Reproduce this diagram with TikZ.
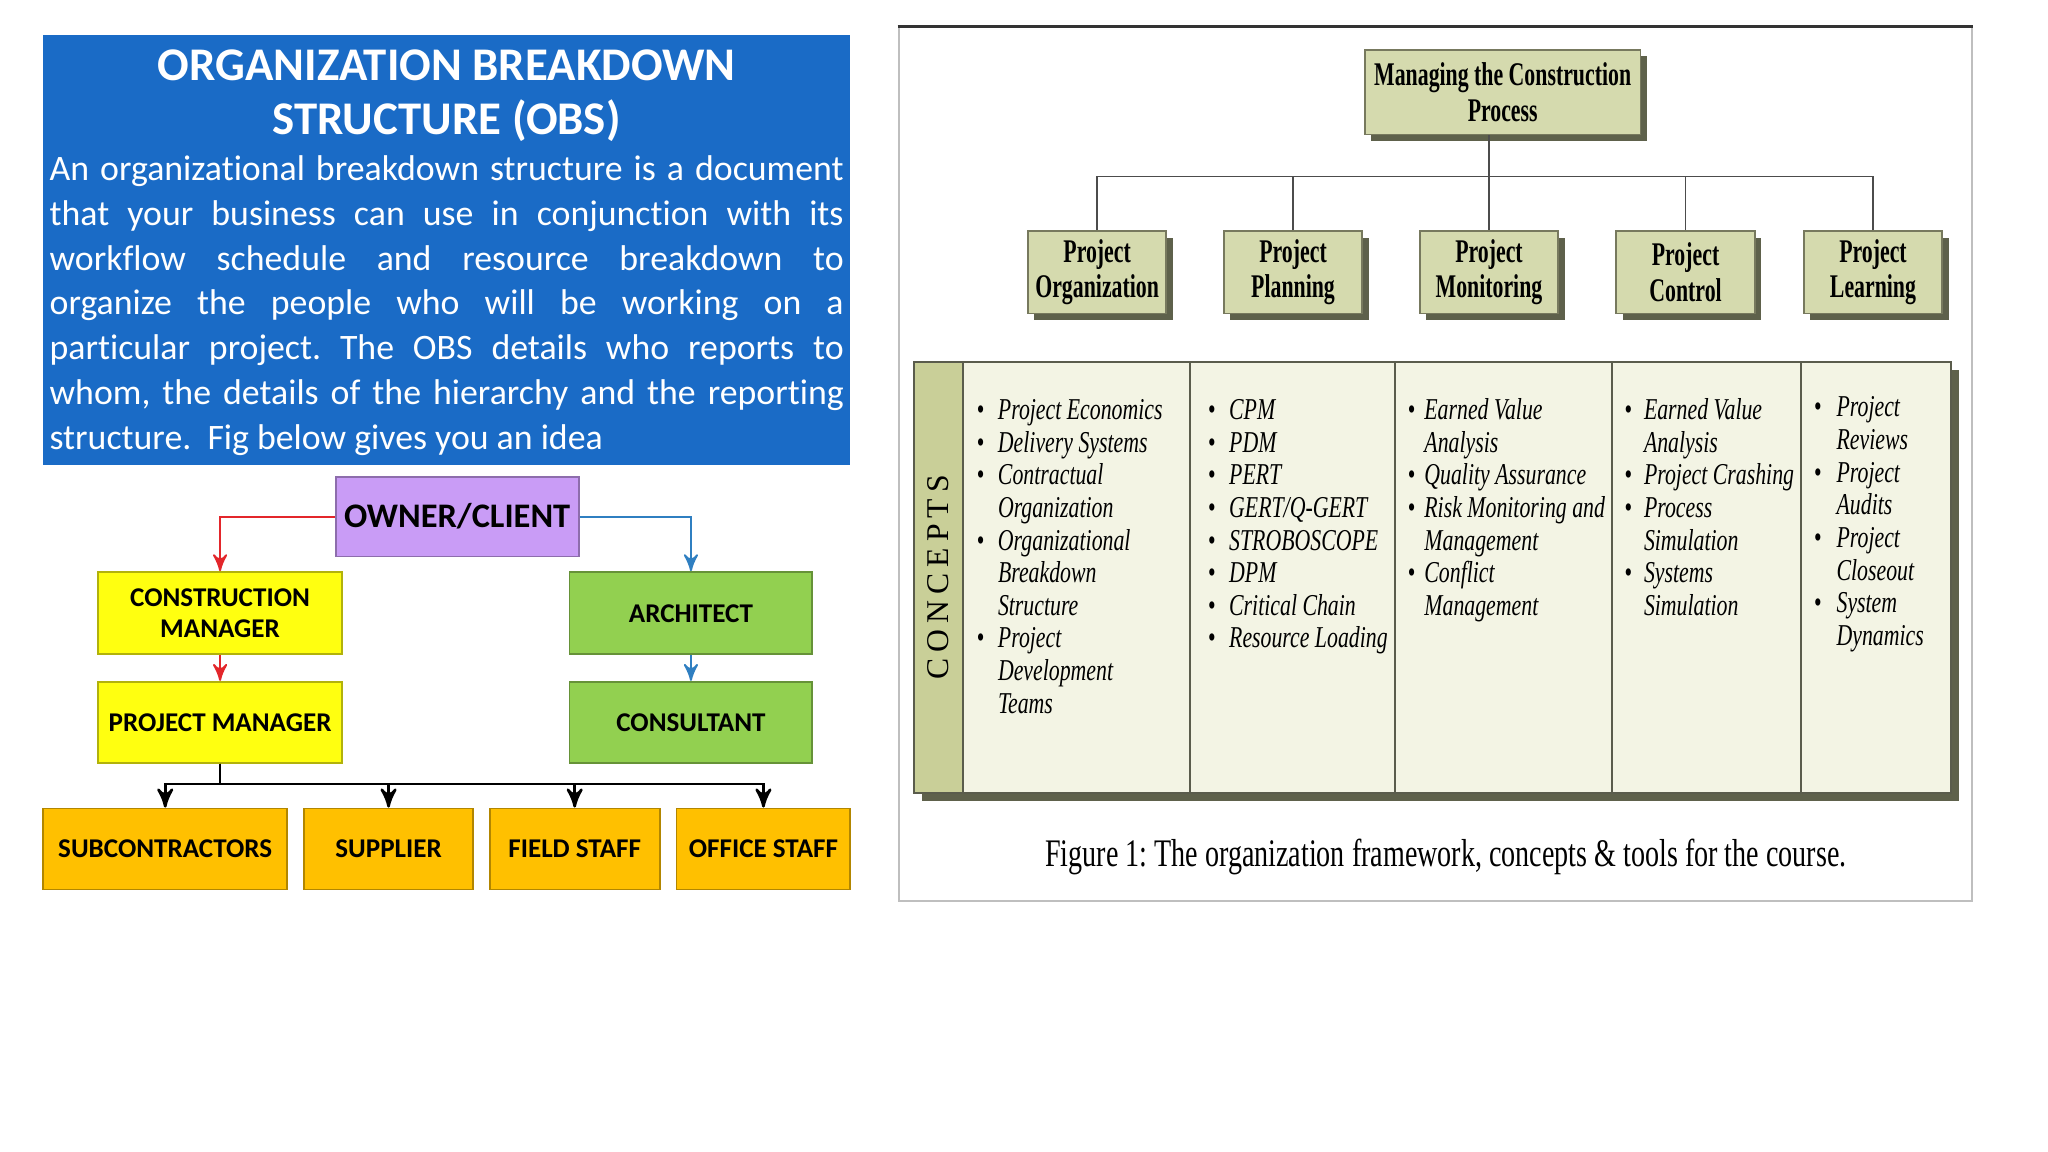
\documentclass[tikz,border=0pt]{standalone}
\usepackage{fontspec}
\setmainfont{Liberation Serif}
\newfontfamily\calfont[Ligatures=NoCommon]{Carlito}
\newfontfamily\condfont[FakeStretch=0.72]{Liberation Serif}
\newfontfamily\boxfont[FakeStretch=0.66]{Liberation Serif}
\newfontfamily\spacedfont[LetterSpace=19]{Liberation Serif}
\usetikzlibrary{arrows,positioning,calc,shadows}
\hbadness=10000
\frenchspacing
\definecolor{obsblue}{HTML}{1A6BC6}
\definecolor{ownerfill}{HTML}{C99CF6}
\definecolor{cmyellow}{HTML}{FFFF10}
\definecolor{archgreen}{HTML}{92D050}
\definecolor{staffgold}{HTML}{FFC000}
\definecolor{linered}{HTML}{E3262B}
\definecolor{lineblue}{HTML}{2F7FC1}
\definecolor{olivebox}{HTML}{D5DAAE}
\definecolor{oliveshade}{HTML}{5E614B}
\definecolor{olivedark}{HTML}{77795E}
\definecolor{tablefill}{HTML}{F3F4E4}
\definecolor{bandfill}{HTML}{C9CF98}
\definecolor{tableedge}{HTML}{5A5C4C}

\begin{document}
\begin{tikzpicture}[x=0.1mm,y=-0.1mm,>=stealth',
      role/.style={rectangle,fill=#1,draw=#1!70!black,thin,inner sep=0pt,align=center,
        minimum height=6.2mm,font=\calfont\bfseries\fontsize{5.9}{6.8}\selectfont},
      phase/.style={rectangle,fill=olivebox,draw=olivedark,thin,inner sep=0pt,align=center,
        minimum width=10.6mm,minimum height=6.3mm,font=\boxfont\bfseries\fontsize{7.2}{7.7}\selectfont,
        drop shadow={shadow xshift=0.5mm,shadow yshift=-0.5mm,fill=oliveshade,opacity=1}},
      concept/.style={anchor=north west,inner sep=0pt,font=\condfont\itshape\fontsize{6.6}{7.11}\selectfont},
      redline/.style={draw=linered,line width=0.15mm},
      blueline/.style={draw=lineblue,line width=0.15mm},
      busline/.style={draw=black,line width=0.2mm},
      treeline/.style={draw=black!70,line width=0.12mm}]
      \path[fill=white] (0,0) rectangle (1568,882);
      \node[fill=obsblue,inner sep=0pt,minimum width=61.8mm,minimum height=32.9mm] at (342,191.5) (obs) {};
      \node[text=white,align=center,font=\calfont\bfseries\fontsize{10.2}{11.7}\selectfont] at (342,73.5) (title)
        {ORGANIZATION BREAKDOWN\\STRUCTURE (OBS)};
      \node[text=white,inner sep=0pt,text width=60.8mm,align=justify,font=\calfont\fontsize{7.8}{9.75}\selectfont] at (342,234) (body)
        {An organizational breakdown structure is a document\linebreak
         that your business can use in conjunction with its\linebreak
         workflow schedule and resource breakdown to\linebreak
         organize the people who will be working on a\linebreak
         particular project. The OBS details who reports to\linebreak
         whom, the details of the hierarchy and the reporting\linebreak
         structure.\ \ Fig below gives you an idea};
      \node[role=ownerfill,minimum width=18.6mm,minimum height=6.1mm,font=\calfont\bfseries\fontsize{7.5}{8}\selectfont] at (350,395.5) (owner) {OWNER/CLIENT};
      \node[role=cmyellow,minimum width=18.7mm,minimum height=6.3mm] at (168.5,469.5) (cm) {CONSTRUCTION\\MANAGER};
      \node[role=cmyellow,minimum width=18.7mm] at (168.5,553) (pm) {PROJECT MANAGER};
      \node[role=archgreen,minimum width=18.6mm,minimum height=6.3mm] at (529,469.5) (arch) {ARCHITECT};
      \node[role=archgreen,minimum width=18.6mm] at (529,553) (cons) {CONSULTANT};
      \node[role=staffgold,minimum width=18.7mm] at (126.5,650) (sub) {SUBCONTRACTORS};
      \node[role=staffgold,minimum width=12.9mm] at (297.5,650) (sup) {SUPPLIER};
      \node[role=staffgold,minimum width=13.0mm] at (440,650) (field) {FIELD STAFF};
      \node[role=staffgold,minimum width=13.3mm] at (584.5,650) (office) {OFFICE STAFF};
      \draw[redline,->] (owner.west) -| (cm.north);
      \draw[blueline,->] (owner.east) -| (arch.north);
      \draw[redline,->] (cm) to (pm);
      \draw[blueline,->] (arch) to (cons);
      \foreach \t in {sub,sup,field,office}
        \draw[busline,->] (pm.south) |- ($(\t.north)+(0,-18)$) -- (\t.north);

      \node[draw=black!25,inner sep=0pt,minimum width=82.2mm,minimum height=66.9mm] at (1099,355.5) (frame) {};
      \draw[line width=0.25mm,black!80] (frame.north west) -- (frame.north east);
      \node[phase,minimum width=21.1mm,minimum height=6.5mm] at (1150.5,70.5) (mgmt) {Managing the Construction\\Process};
      \node[phase] at (840,208.5) (org) {Project\\Organization};
      \node[phase] at (990,208.5) (plan) {Project\\Planning};
      \node[phase] at (1140,208.5) (mon) {Project\\Monitoring};
      \node[phase] at (1290.5,208.5) (ctrl) {Project\\Control};
      \node[phase] at (1434,208.5) (learn) {Project\\Learning};
      \coordinate (hub) at (1140,135);
      \draw[treeline] (mgmt.south -| mon.north) -- (mon.north);
      \foreach \b in {org,plan,ctrl,learn}
        \draw[treeline] (\b.north) |- (hub);
      \node[fill=tablefill,draw=tableedge,line width=0.15mm,inner sep=0pt,minimum width=79.4mm,minimum height=33mm,
        drop shadow={shadow xshift=0.6mm,shadow yshift=-0.6mm,fill=oliveshade,opacity=1}] at (1097,442) (grid) {};
      \node[fill=bandfill,draw=tableedge,line width=0.15mm,inner sep=0pt,minimum width=3.7mm,minimum height=33mm,anchor=north west]
        at (grid.north west) (band) {};
      \node[rotate=90,font=\spacedfont\fontsize{6.9}{8}\selectfont] at (band.center) (conc) {CONCEPTS};
      \foreach \x in {911,1068,1234,1379}
        \draw[tableedge,line width=0.15mm] (\x,277) -- (\x,607);
      \node[concept] at (747,303) (econ) {\begin{tabular}{@{}l@{\hspace{3pt}}l@{}}
        \textbullet & Project Economics\\ \textbullet & Delivery Systems\\ \textbullet & Contractual\\ & Organization\\
        \textbullet & Organizational\\ & Breakdown\\ & Structure\\ \textbullet & Project\\ & Development\\ & Teams
        \end{tabular}};
      \node[concept] at (924,303) (cpm) {\begin{tabular}{@{}l@{\hspace{3pt}}l@{}}
        \textbullet & CPM\\ \textbullet & PDM\\ \textbullet & PERT\\ \textbullet & GERT/Q-GERT\\ \textbullet & STROBOSCOPE\\
        \textbullet & DPM\\ \textbullet & Critical Chain\\ \textbullet & Resource Loading
        \end{tabular}};
      \node[concept] at (1077,303) (evm) {\begin{tabular}{@{}l@{\hspace{2pt}}l@{}}
        \textbullet & Earned Value\\ & Analysis\\ \textbullet & Quality Assurance\\ \textbullet & Risk Monitoring and\\ & Management\\
        \textbullet & Conflict\\ & Management
        \end{tabular}};
      \node[concept] at (1243,303) (crash) {\begin{tabular}{@{}l@{\hspace{2.6pt}}l@{}}
        \textbullet & Earned Value\\ & Analysis\\ \textbullet & Project Crashing\\ \textbullet & Process\\ & Simulation\\
        \textbullet & Systems\\ & Simulation
        \end{tabular}};
      \node[concept] at (1388,301) (review) {\begin{tabular}{@{}l@{\hspace{3.3pt}}l@{}}
        \textbullet & Project\\ & Reviews\\ \textbullet & Project\\ & Audits\\ \textbullet & Project\\ & Closeout\\
        \textbullet & System\\ & Dynamics
        \end{tabular}};
      \node[font=\condfont\fontsize{8.5}{9.5}\selectfont] at (1107,656) (caption)
        {Figure 1: The organization framework, concepts \& tools for the course.};
      \useasboundingbox (0,0) rectangle (1568,882);
    \end{tikzpicture}
\end{document}
